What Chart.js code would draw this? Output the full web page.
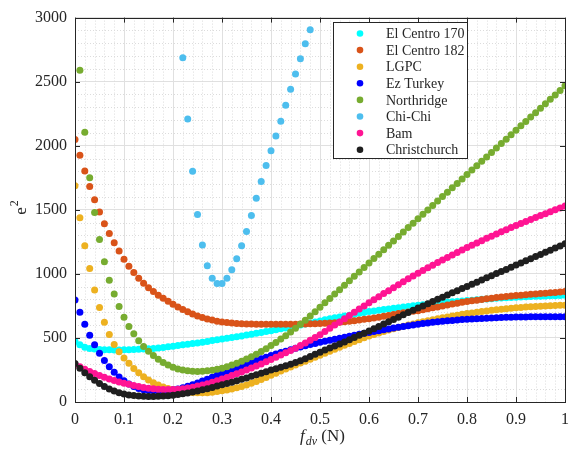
<!DOCTYPE html>
<html>
<head>
<meta charset="utf-8">
<script src="https://cdn.jsdelivr.net/npm/chart.js@4.4.1/dist/chart.umd.min.js"></script>
<style>
  html, body { margin: 0; padding: 0; background: #fff; }
  #wrap { width: 577px; height: 455px; position: relative; }
</style>
</head>
<body>
<div id="wrap"><canvas id="chart"></canvas></div>
<script>
// f_dv (N) sample positions
const fdv = [
  0, 0.01, 0.02, 0.03, 0.04, 0.05, 0.06, 0.07, 0.08, 0.09,
  0.10, 0.11, 0.12, 0.13, 0.14, 0.15, 0.16, 0.17, 0.18, 0.19,
  0.20, 0.21, 0.22, 0.23, 0.24, 0.25, 0.26, 0.27, 0.28, 0.29,
  0.30, 0.31, 0.32, 0.33, 0.34, 0.35, 0.36, 0.37, 0.38, 0.39,
  0.40, 0.41, 0.42, 0.43, 0.44, 0.45, 0.46, 0.47, 0.48, 0.49,
  0.50, 0.51, 0.52, 0.53, 0.54, 0.55, 0.56, 0.57, 0.58, 0.59,
  0.60, 0.61, 0.62, 0.63, 0.64, 0.65, 0.66, 0.67, 0.68, 0.69,
  0.70, 0.71, 0.72, 0.73, 0.74, 0.75, 0.76, 0.77, 0.78, 0.79,
  0.80, 0.81, 0.82, 0.83, 0.84, 0.85, 0.86, 0.87, 0.88, 0.89,
  0.90, 0.91, 0.92, 0.93, 0.94, 0.95, 0.96, 0.97, 0.98, 0.99,
  1.00
];

const elCentro170 = [
  472, 446, 428, 418, 413, 410, 408, 407, 406, 406,
  407, 408, 409, 411, 413, 415, 418, 422, 426, 431,
  436, 441, 446, 451, 456, 461, 467, 473, 479, 485,
  492, 498, 504, 510, 516, 522, 529, 536, 543, 550,
  557, 564, 571, 578, 585, 593, 601, 609, 617, 625,
  633, 641, 649, 657, 664, 671, 678, 685, 692, 699,
  706, 711, 716, 721, 726, 731, 736, 741, 746, 751,
  755, 759, 763, 767, 771, 775, 778, 782, 785, 789,
  792, 795, 798, 801, 804, 806, 809, 811, 813, 816,
  818, 820, 821, 823, 825, 826, 828, 829, 830, 832,
  833
];

const elCentro182 = [
  2048, 1925, 1802, 1682, 1579, 1482, 1392, 1315, 1243, 1178,
  1115, 1060, 1010, 966, 926, 892, 862, 834, 809, 786,
  763, 742, 722, 704, 687, 672, 659, 648, 639, 631,
  625, 620, 616, 613, 611, 609, 608, 607, 606, 606,
  606, 606, 606, 606, 607, 607, 608, 609, 610, 611,
  612, 614, 616, 619, 622, 626, 630, 635, 640, 645,
  650, 656, 662, 669, 676, 683, 690, 697, 703, 708,
  712, 719, 727, 735, 742, 749, 757, 764, 771, 778,
  785, 790, 795, 800, 805, 810, 815, 819, 823, 827,
  831, 834, 837, 840, 843, 846, 849, 852, 855, 858,
  862
];

const lgpc = [
  1687, 1438, 1220, 1041, 874, 738, 623, 526, 449, 392,
  344, 303, 262, 228, 197, 172, 151, 133, 118, 105,
  95, 88, 82, 78, 75, 73, 72, 73, 76, 81,
  87, 94, 102, 111, 121, 132, 146, 160, 175, 192,
  209, 225, 241, 257, 273, 289, 304, 319, 334, 350,
  365, 380, 396, 411, 427, 442, 457, 472, 486, 501,
  515, 527, 539, 550, 561, 572, 581, 591, 600, 609,
  618, 626, 634, 642, 650, 658, 664, 671, 677, 684,
  690, 695, 701, 706, 711, 716, 720, 724, 728, 732,
  736, 738, 741, 743, 746, 748, 750, 751, 753, 755,
  756
];

const ezTurkey = [
  797, 700, 607, 520, 446, 381, 324, 276, 232, 195,
  165, 141, 121, 106, 96, 90, 87, 86, 87, 90,
  95, 102, 111, 122, 135, 149, 163, 178, 193, 208,
  223, 238, 253, 268, 283, 298, 311, 324, 337, 350,
  362, 374, 386, 397, 408, 419, 429, 439, 448, 457,
  466, 474, 482, 490, 498, 506, 514, 521, 529, 536,
  543, 550, 557, 564, 570, 577, 583, 589, 595, 601,
  607, 612, 617, 622, 626, 630, 634, 637, 640, 643,
  646, 648, 650, 652, 654, 656, 658, 659, 661, 662,
  663, 664, 664, 665, 665, 665, 666, 666, 666, 666,
  666
];

const northridge = [
  null, 2589, 2105, 1751, 1479, 1268, 1095, 950, 843, 746,
  662, 590, 532, 478, 434, 396, 363, 334, 308, 288,
  271, 258, 249, 243, 240, 239, 240, 243, 248, 255,
  264, 275, 288, 302, 318, 335, 353, 373, 394, 416,
  440, 465, 491, 518, 546, 575, 606, 638, 671, 705,
  740, 774, 808, 843, 877, 912, 946, 981, 1015, 1050,
  1085, 1119, 1154, 1188, 1223, 1257, 1292, 1326, 1361, 1395,
  1430, 1465, 1499, 1534, 1568, 1603, 1637, 1672, 1706, 1741,
  1775, 1810, 1844, 1879, 1913, 1948, 1982, 2017, 2051, 2086,
  2120, 2155, 2189, 2224, 2258, 2293, 2327, 2362, 2396, 2431,
  2468
];

// Chi-Chi only comes inside the 0..3000 window between 0.22 and 0.48
const chiChiFdv = [
  0.22, 0.23, 0.24, 0.25, 0.26, 0.27, 0.28, 0.29, 0.30, 0.31,
  0.32, 0.33, 0.34, 0.35, 0.36, 0.37, 0.38, 0.39, 0.40, 0.41,
  0.42, 0.43, 0.44, 0.45, 0.46, 0.47, 0.48
];
const chiChi = [
  2687, 2208, 1800, 1464, 1225, 1064, 966, 925, 925, 966,
  1033, 1118, 1220, 1330, 1455, 1590, 1720, 1845, 1960, 2075,
  2192, 2315, 2440, 2560, 2678, 2795, 2905
];

const bam = [
  295, 275, 256, 238, 222, 207, 193, 180, 168, 157,
  147, 138, 129, 121, 114, 108, 103, 100, 98, 97,
  98, 100, 104, 109, 116, 124, 133, 143, 154, 166,
  179, 192, 206, 220, 235, 250, 265, 281, 297, 314,
  332, 349, 366, 384, 402, 420, 440, 461, 482, 503,
  525, 550, 575, 600, 625, 650, 675, 700, 725, 750,
  774, 798, 822, 846, 869, 892, 915, 938, 961, 983,
  1005, 1026, 1047, 1068, 1088, 1108, 1128, 1148, 1167, 1186,
  1205, 1223, 1241, 1259, 1277, 1294, 1311, 1328, 1345, 1361,
  1377, 1393, 1409, 1424, 1440, 1455, 1470, 1485, 1500, 1515,
  1530
];

const christchurch = [
  300, 264, 228, 197, 169, 144, 121, 102, 86, 73,
  63, 55, 50, 46, 44, 43, 43, 44, 46, 49,
  53, 58, 64, 71, 78, 86, 95, 104, 114, 124,
  134, 144, 155, 166, 177, 188, 200, 212, 224, 236,
  249, 260, 271, 283, 295, 308, 322, 338, 355, 372,
  389, 405, 421, 437, 453, 469, 486, 503, 520, 537,
  554, 572, 590, 608, 626, 644, 662, 680, 698, 716,
  733, 750, 767, 784, 801, 818, 835, 852, 868, 885,
  902, 919, 935, 952, 969, 985, 1002, 1019, 1035, 1052,
  1069, 1085, 1102, 1118, 1135, 1152, 1168, 1185, 1201, 1218,
  1235
];

const seriesNames = ['El Centro 170', 'El Centro 182', 'LGPC', 'Ez Turkey',
  'Northridge', 'Chi-Chi', 'Bam', 'Christchurch'];
const seriesColors = ['#00ffff', '#d95319', '#edb120', '#0000ff',
  '#77ac30', '#4dbeee', '#ff1493', '#1f1f1f'];

const FONT = '"Liberation Serif", "Times New Roman", serif';
const AXIS_COLOR = '#262626';

function toPoints(xs, ys) {
  return xs.map((x, i) => ({ x: x, y: ys[i] }));
}

const seriesData = [
  toPoints(fdv, elCentro170),
  toPoints(fdv, elCentro182),
  toPoints(fdv, lgpc),
  toPoints(fdv, ezTurkey),
  toPoints(fdv, northridge),
  toPoints(chiChiFdv, chiChi),
  toPoints(fdv, bam),
  toPoints(fdv, christchurch)
];

// minor dotted grid, box, inside ticks, legend and axis titles (MATLAB look)
const matlabAxes = {
  id: 'matlabAxes',
  beforeDatasetsDraw(chart) {
    const { ctx, chartArea: a, scales } = chart;
    const xs = scales.x, ys = scales.y;
    ctx.save();
    ctx.strokeStyle = '#dcdcdc';
    ctx.lineWidth = 1;
    ctx.setLineDash([1, 2]);
    for (let k = 1; k < 50; k++) {
      if (k % 5 === 0) continue;
      const px = Math.round(xs.getPixelForValue(k * 0.02)) + 0.5;
      ctx.beginPath(); ctx.moveTo(px, a.top); ctx.lineTo(px, a.bottom); ctx.stroke();
    }
    for (let k = 1; k < 30; k++) {
      if (k % 5 === 0) continue;
      const py = Math.round(ys.getPixelForValue(k * 100)) + 0.5;
      ctx.beginPath(); ctx.moveTo(a.left, py); ctx.lineTo(a.right, py); ctx.stroke();
    }
    ctx.restore();
  },
  afterDraw(chart) {
    const { ctx, chartArea: a, scales } = chart;
    const xs = scales.x, ys = scales.y;
    ctx.save();
    // box
    ctx.strokeStyle = AXIS_COLOR;
    ctx.lineWidth = 1;
    ctx.strokeRect(Math.round(a.left) + 0.5, Math.round(a.top) + 0.5,
      Math.round(a.right - a.left), Math.round(a.bottom - a.top));
    // inside tick marks
    ctx.beginPath();
    xs.ticks.forEach(t => {
      const px = Math.round(xs.getPixelForValue(t.value)) + 0.5;
      ctx.moveTo(px, a.bottom); ctx.lineTo(px, a.bottom - 5);
      ctx.moveTo(px, a.top); ctx.lineTo(px, a.top + 5);
    });
    ys.ticks.forEach(t => {
      const py = Math.round(ys.getPixelForValue(t.value)) + 0.5;
      ctx.moveTo(a.left, py); ctx.lineTo(a.left + 5, py);
      ctx.moveTo(a.right, py); ctx.lineTo(a.right - 5, py);
    });
    ctx.stroke();

    // legend
    const lx = 333.5, ly = 22.5, lw = 134, lh = 136;
    ctx.fillStyle = '#fff';
    ctx.fillRect(lx, ly, lw, lh);
    ctx.strokeStyle = AXIS_COLOR;
    ctx.strokeRect(lx, ly, lw, lh);
    ctx.font = '14px ' + FONT;
    ctx.textBaseline = 'middle';
    seriesNames.forEach((name, i) => {
      const cy = 33.5 + i * 16.6;
      ctx.fillStyle = seriesColors[i];
      ctx.beginPath(); ctx.arc(360, cy, 3.3, 0, Math.PI * 2); ctx.fill();
      ctx.fillStyle = AXIS_COLOR;
      ctx.fillText(name, 386, cy + 1);
    });

    // x title: f_dv (N)
    ctx.textBaseline = 'alphabetic';
    ctx.fillStyle = AXIS_COLOR;
    const big = 'italic 17px ' + FONT, sub = 'italic 12px ' + FONT, norm = '17px ' + FONT;
    ctx.font = big; const wf = ctx.measureText('f').width;
    ctx.font = sub; const wd = ctx.measureText('dv').width;
    ctx.font = norm; const wn = ctx.measureText(' (N)').width;
    let tx = (a.left + a.right) / 2 - (wf + wd + wn) / 2 + 2;
    const by = 441;
    ctx.font = big; ctx.fillText('f', tx, by); tx += wf + 1;
    ctx.font = sub; ctx.fillText('dv', tx, by + 4); tx += wd;
    ctx.font = norm; ctx.fillText(' (N)', tx, by);

    // y title: e^2
    ctx.translate(26, 208);
    ctx.rotate(-Math.PI / 2);
    ctx.font = norm;
    const we = ctx.measureText('e').width;
    ctx.fillText('e', -we / 2 - 3, 0);
    ctx.font = '12px ' + FONT;
    ctx.fillText('2', we / 2 - 2, -8);
    ctx.restore();
  }
};

new Chart(document.getElementById('chart'), {
  type: 'scatter',
  data: {
    datasets: seriesData.map((pts, i) => ({
      label: seriesNames[i],
      data: pts,
      backgroundColor: seriesColors[i],
      borderWidth: 0,
      pointRadius: 3.5,
      pointHoverRadius: 3.5,
      order: seriesNames.length - i
    }))
  },
  options: {
    responsive: true,
    maintainAspectRatio: false,
    animation: false,
    events: [],
    layout: { padding: { top: 12, right: 9, left: 0, bottom: 0 } },
    plugins: {
      legend: { display: false },
      tooltip: { enabled: false }
    },
    scales: {
      x: {
        type: 'linear',
        min: 0,
        max: 1,
        ticks: {
          stepSize: 0.1,
          padding: 8,
          color: AXIS_COLOR,
          font: { family: FONT, size: 16 },
          maxRotation: 0,
          callback: v => String(Math.round(v * 10) / 10)
        },
        grid: { color: '#e0e0e0', drawTicks: false },
        border: { display: false },
        afterFit: s => { s.height = 53; }
      },
      y: {
        type: 'linear',
        min: 0,
        max: 3000,
        ticks: {
          stepSize: 500,
          padding: 8,
          color: AXIS_COLOR,
          font: { family: FONT, size: 16 },
          callback: v => String(v)
        },
        grid: { color: '#e0e0e0', drawTicks: false },
        border: { display: false },
        afterFit: s => { s.width = 75; }
      }
    }
  },
  plugins: [matlabAxes]
});
</script>
</body>
</html>
